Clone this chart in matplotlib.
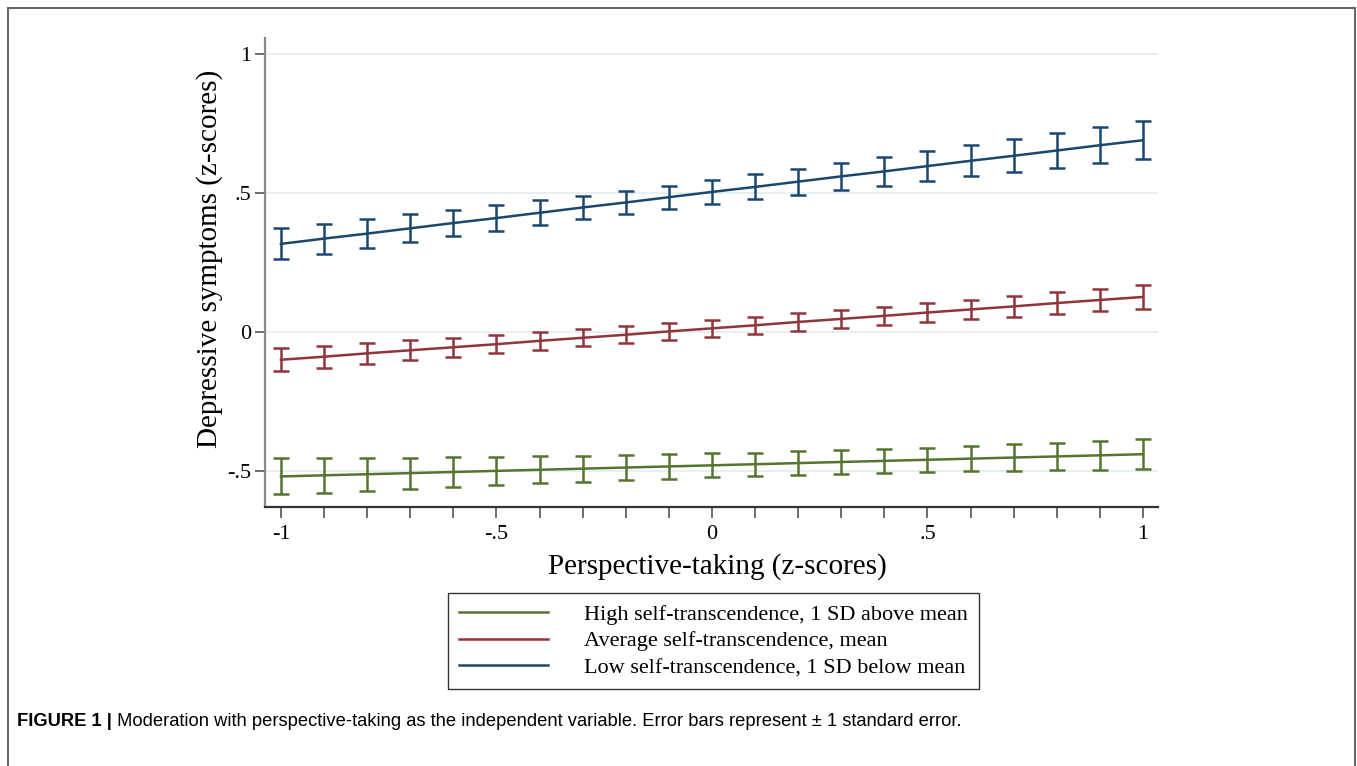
import matplotlib
matplotlib.use("Agg")
import matplotlib.pyplot as plt
from matplotlib.patches import Rectangle

# perspective-taking (z-scores)
x = [-1.0, -0.9, -0.8, -0.7, -0.6, -0.5, -0.4, -0.3, -0.2, -0.1, 0.0,
     0.1, 0.2, 0.3, 0.4, 0.5, 0.6, 0.7, 0.8, 0.9, 1.0]

# low self-transcendence (1 SD below mean)
low_mean = [0.317, 0.336, 0.354, 0.373, 0.392, 0.410, 0.429, 0.448, 0.466, 0.485, 0.504,
            0.522, 0.541, 0.560, 0.578, 0.597, 0.616, 0.634, 0.653, 0.672, 0.690]
low_se = [0.056, 0.054, 0.052, 0.050, 0.048, 0.046, 0.045, 0.043, 0.043, 0.042, 0.043,
          0.045, 0.047, 0.049, 0.051, 0.054, 0.056, 0.059, 0.062, 0.065, 0.068]

# average self-transcendence (mean)
avg_mean = [-0.100, -0.089, -0.077, -0.066, -0.055, -0.044, -0.032, -0.021, -0.010, 0.002, 0.013,
            0.024, 0.036, 0.047, 0.058, 0.070, 0.081, 0.092, 0.104, 0.115, 0.126]
avg_se = [0.042, 0.040, 0.038, 0.036, 0.034, 0.033, 0.032, 0.031, 0.030, 0.030, 0.030,
          0.030, 0.031, 0.031, 0.032, 0.033, 0.035, 0.037, 0.039, 0.041, 0.043]

# high self-transcendence (1 SD above mean)
high_mean = [-0.520, -0.516, -0.512, -0.508, -0.504, -0.500, -0.496, -0.492, -0.488, -0.484, -0.480,
             -0.476, -0.472, -0.468, -0.464, -0.460, -0.456, -0.452, -0.448, -0.444, -0.440]
high_se = [0.065, 0.062, 0.059, 0.056, 0.053, 0.051, 0.049, 0.047, 0.045, 0.044, 0.043,
           0.042, 0.042, 0.042, 0.042, 0.043, 0.045, 0.047, 0.049, 0.052, 0.055]

labels = ["High self-transcendence, 1 SD above mean",
          "Average self-transcendence, mean",
          "Low self-transcendence, 1 SD below mean"]
colors = ["#55752f", "#90353b", "#1a476f"]

yticks = [-0.5, 0, 0.5, 1]
yticklabels = ["-.5", "0", ".5", "1"]
xticks = [-1, -0.5, 0, 0.5, 1]
xticklabels = ["-1", "-.5", "0", ".5", "1"]

serif = "Liberation Serif"

fig = plt.figure(figsize=(13.57, 7.66), dpi=100)
ax = fig.add_axes([265 / 1357, 1 - 507 / 766, (1158 - 265) / 1357, (507 - 38) / 766])

for yv in yticks:
    ax.axhline(yv, color="#e3ecef", lw=1.2, zorder=0)

handles = []
for m, se, c, lab in zip([high_mean, avg_mean, low_mean],
                         [high_se, avg_se, low_se], colors, labels):
    ax.errorbar(x, m, yerr=se, fmt="none", ecolor=c, elinewidth=1.8,
                capsize=5.5, capthick=1.8, zorder=2)
    h, = ax.plot(x, m, color=c, lw=1.8, zorder=3, label=lab)
    handles.append(h)

ax.set_xlim(-1.037, 1.035)
ax.set_ylim(-0.63, 1.058)

for s in ["top", "right"]:
    ax.spines[s].set_visible(False)
ax.spines["left"].set_color("#888888")
ax.spines["left"].set_linewidth(1.6)
ax.spines["bottom"].set_color("#333333")
ax.spines["bottom"].set_linewidth(1.6)

ax.set_yticks(yticks)
ax.set_yticklabels(yticklabels, fontsize=16, family=serif)
ax.set_xticks(xticks)
ax.set_xticklabels(xticklabels, fontsize=16, family=serif)
ax.set_xticks(x, minor=True)
ax.tick_params(axis="y", length=7, width=1.2, color="#555555", pad=3)
ax.tick_params(axis="x", which="both", length=8, width=1.2, color="#555555", pad=5)

ax.set_xlabel("Perspective-taking (z-scores)", fontsize=21, family=serif)
ax.set_ylabel("Depressive symptoms (z-scores)", fontsize=21, family=serif)
ax.xaxis.set_label_coords((717 - 265) / (1158 - 265), (507 - 567) / (507 - 38), transform=ax.transAxes)
ax.xaxis.label.set_va("center")
ax.yaxis.set_label_coords((210 - 265) / (1158 - 265), (507 - 259) / (507 - 38), transform=ax.transAxes)
ax.yaxis.label.set_va("center")

leg = fig.legend(handles=handles, labels=labels, loc="upper left",
                 bbox_to_anchor=(448 / 1357, 1 - 593 / 766),
                 prop={"family": serif, "size": 16}, frameon=True, fancybox=False,
                 handlelength=4.0, handletextpad=1.6, borderpad=0.5, labelspacing=0.28,
                 borderaxespad=0)
leg.get_frame().set_edgecolor("black")
leg.get_frame().set_linewidth(1.0)

# outer frame of the figure panel
fig.patches.append(Rectangle((8 / 1357, -0.05), (1355 - 8) / 1357, 1 - 8 / 766 + 0.05,
                             transform=fig.transFigure, fill=False,
                             edgecolor="#666666", lw=1.5))

cap_font = ["Liberation Sans Narrow", "Liberation Sans", "DejaVu Sans"]
t1 = fig.text(17 / 1357, 1 - 722 / 766, "FIGURE 1 |", fontsize=13.2,
              fontweight="bold", family=cap_font, va="center", ha="left")
fig.canvas.draw()
bb = t1.get_window_extent()
fig.text(bb.x1 / fig.bbox.width, 1 - 722 / 766,
         " Moderation with perspective-taking as the independent variable. "
         "Error bars represent \u00b1 1 standard error.", fontsize=13.2,
         family=cap_font, va="center", ha="left")

fig.savefig("out.png", dpi=100)
